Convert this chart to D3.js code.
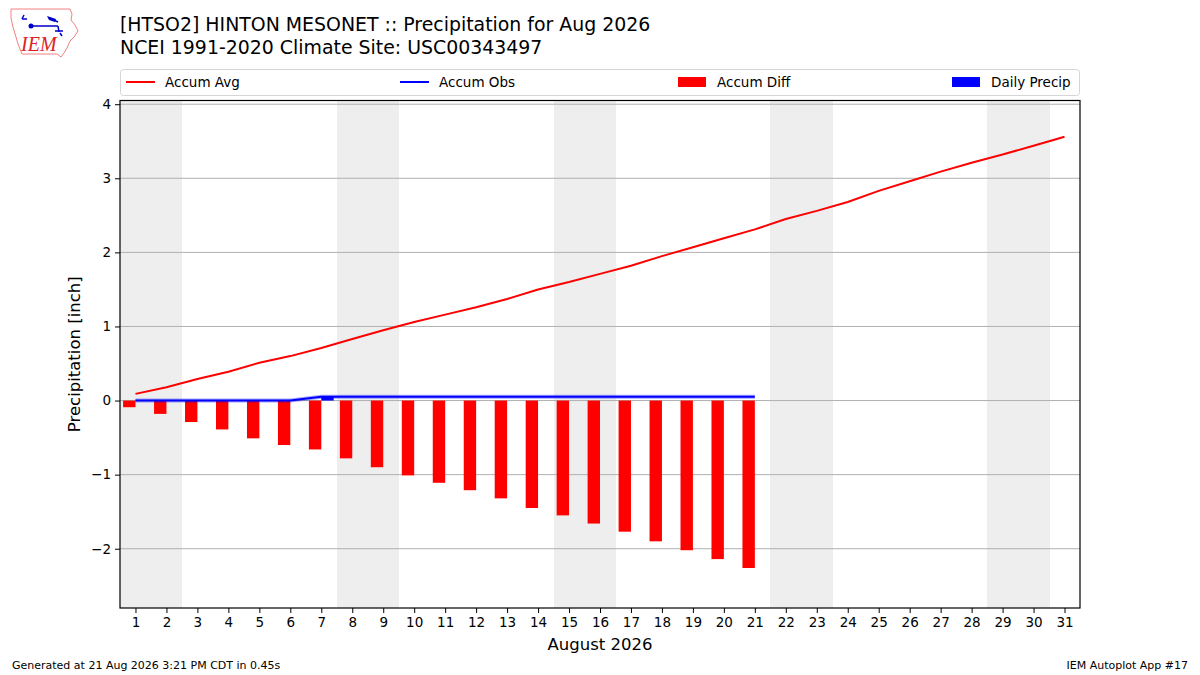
<!DOCTYPE html>
<html>
<head>
<meta charset="utf-8">
<script src="https://cdn.jsdelivr.net/npm/d3@7"></script>
<style>
  body { margin: 0; background: #fff; }
  svg { display: block; font-family: "DejaVu Sans", sans-serif; }
</style>
</head>
<body>
<svg id="chart" width="1200" height="675"></svg>
<script>
// days of the month
var days = [1,2,3,4,5,6,7,8,9,10,11,12,13,14,15,16,17,18,19,20,21,22,23,24,25,26,27,28,29,30,31];
// climatology accumulated average (inch)
var accumAvg = [0.09,0.18,0.29,0.39,0.51,0.60,0.71,0.83,0.95,1.06,1.16,1.26,1.37,1.50,1.60,1.71,1.82,1.95,2.07,2.19,2.31,
                2.45,2.56,2.68,2.83,2.96,3.09,3.21,3.32,3.44,3.56];
// observed accumulation, days 1..21
var accumObs = [0,0,0,0,0,0,0.05,0.05,0.05,0.05,0.05,0.05,0.05,0.05,0.05,0.05,0.05,0.05,0.05,0.05,0.05];
// departure, days 1..21
var accumDiff = [-0.09,-0.18,-0.29,-0.39,-0.51,-0.60,-0.66,-0.78,-0.90,-1.01,-1.11,-1.21,-1.32,-1.45,-1.55,-1.66,-1.77,-1.90,-2.02,-2.14,-2.26];
// daily precip, days 1..21
var dailyPrecip = [0,0,0,0,0,0,0.05,0,0,0,0,0,0,0,0,0,0,0,0,0,0];
// weekend days to shade
var weekendDays = [1,2,8,9,15,16,22,23,29,30];
var yTicks = [-2,-1,0,1,2,3,4];
var legendItems = ["Accum Avg","Accum Obs","Accum Diff","Daily Precip"];

var
  svg = d3.select("#chart"),
  dim = { left: 120, right: 1080, top: 100.5, bottom: 608 },

  x = d3.scaleLinear().domain([0.5, 31.5]).range([dim.left, dim.right]),
  y = d3.scaleLinear().domain([-2.80, 4.05]).range([dim.bottom, dim.top]),

  drawLogo = function(){
    var g = svg.append("g").attr("id", "logo");
    g.append("path")
      .attr("d", "M11,9 L70,9 L72,14 L71,20 L75,25 L78,31 L74,37 L70,41 L67,48 L64,53 L61,57 L57,54 L22,54 L20,49 L18,44 L16,37 L13,27 L11,18 Z")
      .style("fill", "none")
      .style("stroke", "#f08080")
      .style("stroke-width", 1);
    g.append("path")
      .attr("d", "M24,15 L22,19 M22,19 L27,19 M30,26 L58,26 M49,18 L58,22 M58,26 L59,32 M55,31 L63,31 M60,33 L62,36")
      .style("stroke", "#0000cc")
      .style("stroke-width", 1.5)
      .style("fill", "none");
    g.append("path")
      .attr("d", "M47,16 L56,19 L55,22 L49,20 Z")
      .style("fill", "#0000cc");
    g.append("circle").attr("cx", 31).attr("cy", 26).attr("r", 2.5).style("fill", "#0000cc");
    g.append("text")
      .attr("x", 21).attr("y", 51)
      .style("font-family", "Liberation Serif, serif")
      .style("font-style", "italic")
      .style("font-size", "20px")
      .style("fill", "#dd2222")
      .text("IEM");
  },

  drawTitles = function(){
    svg.append("text").attr("x", 120).attr("y", 31)
      .style("font-size", "18.9px").style("fill", "#000")
      .text("[HTSO2] HINTON MESONET :: Precipitation for Aug 2026");
    svg.append("text").attr("x", 120).attr("y", 54)
      .style("font-size", "18.9px").style("fill", "#000")
      .text("NCEI 1991-2020 Climate Site: USC00343497");
    svg.append("text").attr("x", 12).attr("y", 669)
      .style("font-size", "11px")
      .text("Generated at 21 Aug 2026 3:21 PM CDT in 0.45s");
    svg.append("text").attr("x", 1188).attr("y", 669)
      .attr("text-anchor", "end")
      .style("font-size", "11px")
      .text("IEM Autoplot App #17");
  },

  drawPlot = function(){
    var plot = svg.append("g").attr("id", "plot");

    // weekend shading
    plot.selectAll("rect.weekend")
      .data(weekendDays)
      .enter().append("rect")
      .attr("class", "weekend")
      .attr("x", function(d){ return x(d - 0.5); })
      .attr("y", dim.top)
      .attr("width", function(d){ return x(d + 0.5) - x(d - 0.5) + 0.5; })
      .attr("height", dim.bottom - dim.top)
      .attr("shape-rendering", "crispEdges")
      .style("fill", "#eeeeee");

    // horizontal grid
    plot.selectAll("line.grid")
      .data(yTicks)
      .enter().append("line")
      .attr("class", "grid")
      .attr("x1", dim.left).attr("x2", dim.right)
      .attr("y1", function(d){ return y(d); })
      .attr("y2", function(d){ return y(d); })
      .style("stroke", "#b0b0b0")
      .style("stroke-width", 1);

    // departure bars
    plot.selectAll("rect.diff")
      .data(accumDiff)
      .enter().append("rect")
      .attr("class", "diff")
      .attr("x", function(d, i){ return x(days[i] - 0.4); })
      .attr("y", function(d){ return y(Math.max(0, d)); })
      .attr("width", function(d, i){ return x(days[i]) - x(days[i] - 0.4); })
      .attr("height", function(d){ return Math.abs(y(d) - y(0)); })
      .style("fill", "#ff0000");

    // daily precip bars
    plot.selectAll("rect.daily")
      .data(dailyPrecip)
      .enter().append("rect")
      .attr("class", "daily")
      .attr("x", function(d, i){ return x(days[i]); })
      .attr("y", function(d){ return y(d); })
      .attr("width", function(d, i){ return x(days[i] + 0.4) - x(days[i]); })
      .attr("height", function(d){ return y(0) - y(d); })
      .style("fill", "#0000ff");

    var line = d3.line()
      .x(function(d, i){ return x(days[i]); })
      .y(function(d){ return y(d); });

    plot.append("path")
      .datum(accumAvg)
      .attr("d", line)
      .style("fill", "none")
      .style("stroke", "#ff0000")
      .style("stroke-width", 2);

    plot.append("path")
      .datum(accumObs)
      .attr("d", line)
      .style("fill", "none")
      .style("stroke", "rgba(0,0,255,0.35)")
      .style("stroke-width", 4);
    plot.append("path")
      .datum(accumObs)
      .attr("d", line)
      .style("fill", "none")
      .style("stroke", "#0000ff")
      .style("stroke-width", 2);

    // frame
    plot.append("rect")
      .attr("x", dim.left).attr("y", dim.top)
      .attr("width", dim.right - dim.left)
      .attr("height", dim.bottom - dim.top)
      .style("fill", "none")
      .style("stroke", "#000")
      .style("stroke-width", 1.2);
  },

  drawAxes = function(){
    var xAxis = d3.axisBottom(x)
      .tickValues(days)
      .tickFormat(d3.format("d"))
      .tickSize(5)
      .tickPadding(4);
    var gx = svg.append("g")
      .attr("transform", "translate(0," + dim.bottom + ")")
      .call(xAxis);
    gx.select(".domain").remove();
    gx.selectAll("text").style("font-size", "13.5px").style("font-family", "DejaVu Sans, sans-serif").style("fill", "#000");

    var yAxis = d3.axisLeft(y)
      .tickValues(yTicks)
      .tickFormat(d3.format("d"))
      .tickSize(5)
      .tickPadding(4);
    var gy = svg.append("g")
      .attr("transform", "translate(" + dim.left + ",0)")
      .call(yAxis);
    gy.select(".domain").remove();
    gy.selectAll("text").style("font-size", "13.5px").style("font-family", "DejaVu Sans, sans-serif").style("fill", "#000");

    svg.append("text")
      .attr("x", (dim.left + dim.right) / 2).attr("y", 650)
      .attr("text-anchor", "middle")
      .style("font-size", "16.5px")
      .text("August 2026");

    svg.append("text")
      .attr("transform", "translate(80," + ((dim.top + dim.bottom) / 2) + ") rotate(-90)")
      .attr("text-anchor", "middle")
      .style("font-size", "16.5px")
      .text("Precipitation [inch]");
  },

  drawLegend = function(){
    var lg = svg.append("g").attr("id", "legend");
    lg.append("rect")
      .attr("x", 120.5).attr("y", 69.5)
      .attr("width", 959).attr("height", 26)
      .attr("rx", 3)
      .style("fill", "rgba(255,255,255,0.8)")
      .style("stroke", "#d5d5d5")
      .style("stroke-width", 1);

    var item = lg.selectAll("g.item")
      .data(legendItems)
      .enter().append("g")
      .attr("class", "item")
      .attr("transform", function(d, i){ return "translate(" + [126, 400, 678, 952][i] + ",82)"; });

    item.each(function(d, i){
      var g = d3.select(this);
      if (i < 2) {
        g.append("line")
          .attr("x1", 0).attr("x2", 29).attr("y1", 0).attr("y2", 0)
          .style("stroke", i === 0 ? "#ff0000" : "#0000ff")
          .style("stroke-width", 2);
      } else {
        g.append("rect")
          .attr("x", 0).attr("y", -5).attr("width", 28).attr("height", 10)
          .style("fill", i === 2 ? "#ff0000" : "#0000ff");
      }
      g.append("text")
        .attr("x", 39).attr("y", 5)
        .style("font-size", "13.5px")
        .text(d);
    });
  };

drawLogo();
drawTitles();
drawPlot();
drawAxes();
drawLegend();
</script>
</body>
</html>
